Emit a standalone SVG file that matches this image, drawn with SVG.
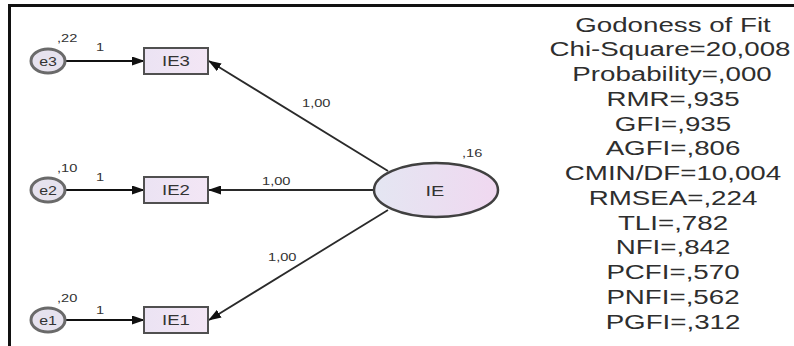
<svg xmlns="http://www.w3.org/2000/svg" width="794" height="346" viewBox="0 0 794 346">
  <defs>
    <marker id="arrow" markerUnits="userSpaceOnUse" markerWidth="13" markerHeight="9" refX="12" refY="4.5" orient="auto">
      <path d="M0,0 L13,4.5 L0,9 Z" fill="#111"/>
    </marker>
    <linearGradient id="latentFill" x1="0" y1="0" x2="1" y2="0">
      <stop offset="0" stop-color="#e4e6f2"/>
      <stop offset="1" stop-color="#f0d8f0"/>
    </linearGradient>
    <linearGradient id="boxFill" x1="0" y1="0" x2="1" y2="0">
      <stop offset="0" stop-color="#ebe3f3"/>
      <stop offset="1" stop-color="#f3e6f5"/>
    </linearGradient>
  </defs>
  <style>
    text { font-family: "Liberation Sans", Arial, sans-serif; fill: #333; }
    .err { fill: #e6e2ee; stroke: #6a6a6a; stroke-width: 3; }
    .obs { fill: url(#boxFill); stroke: #505050; stroke-width: 2; }
    .lat { fill: url(#latentFill); stroke: #404040; stroke-width: 2.5; }
    .edge { stroke: #2a2a2a; stroke-width: 1.8; fill: none; marker-end: url(#arrow); }
    .errEdge { stroke: #111; stroke-width: 2; fill: none; marker-end: url(#arrow); }
    .lbl { font-size: 11px; }
    .node { font-size: 14px; text-anchor: middle; }
    .fit { font-size: 21px; text-anchor: middle; fill: #2e2e2e; }
  </style>

  <rect width="794" height="346" fill="#fff"/>

  <!-- frame -->
  <g id="frame" stroke="#111" stroke-width="3">
    <line x1="8" y1="5.5" x2="794" y2="5.5"/>
    <line x1="9.5" y1="4" x2="9.5" y2="346"/>
  </g>

  <!-- connectors -->
  <g id="connectors">
    <line class="errEdge" x1="66" y1="61" x2="144" y2="61"/>
    <line class="errEdge" x1="66" y1="190" x2="144" y2="190"/>
    <line class="errEdge" x1="66" y1="320" x2="144" y2="320"/>
    <line class="edge" x1="388" y1="171" x2="209" y2="61"/>
    <line class="edge" x1="374" y1="190" x2="209" y2="190"/>
    <line class="edge" x1="388" y1="210" x2="209" y2="320"/>
    <text class="lbl" transform="translate(96,51) scale(1.33,1)">1</text>
    <text class="lbl" transform="translate(96,181) scale(1.33,1)">1</text>
    <text class="lbl" transform="translate(96,314) scale(1.33,1)">1</text>
    <text class="lbl" transform="translate(302,107) scale(1.33,1)">1,00</text>
    <text class="lbl" transform="translate(262,185) scale(1.33,1)">1,00</text>
    <text class="lbl" transform="translate(268,261) scale(1.33,1)">1,00</text>
  </g>

  <!-- error terms -->
  <g id="e3">
    <ellipse class="err" cx="48" cy="61" rx="17" ry="12"/>
    <text class="node" style="font-size:12px" transform="translate(48,65.5) scale(1.33,1)">e3</text>
    <text class="lbl" transform="translate(57,42) scale(1.33,1)">,22</text>
  </g>
  <g id="e2">
    <ellipse class="err" cx="48" cy="190" rx="17" ry="12"/>
    <text class="node" style="font-size:12px" transform="translate(48,194.5) scale(1.33,1)">e2</text>
    <text class="lbl" transform="translate(57,172) scale(1.33,1)">,10</text>
  </g>
  <g id="e1">
    <ellipse class="err" cx="48" cy="320" rx="17" ry="12"/>
    <text class="node" style="font-size:12px" transform="translate(48,324.5) scale(1.33,1)">e1</text>
    <text class="lbl" transform="translate(57,302) scale(1.33,1)">,20</text>
  </g>

  <!-- observed indicators -->
  <g id="IE3">
    <rect class="obs" x="144" y="48" width="64" height="26"/>
    <text class="node" transform="translate(176,66) scale(1.33,1)">IE3</text>
  </g>
  <g id="IE2">
    <rect class="obs" x="144" y="177" width="64" height="26"/>
    <text class="node" transform="translate(176,195) scale(1.33,1)">IE2</text>
  </g>
  <g id="IE1">
    <rect class="obs" x="144" y="307" width="64" height="26"/>
    <text class="node" transform="translate(176,325) scale(1.33,1)">IE1</text>
  </g>

  <!-- latent factor -->
  <g id="IE">
    <ellipse class="lat" cx="436" cy="190" rx="62" ry="27"/>
    <text class="node" style="font-size:15px" transform="translate(435,196) scale(1.33,1)">IE</text>
    <text class="lbl" transform="translate(462,157) scale(1.33,1)">,16</text>
  </g>

  <!-- fit statistics -->
  <g id="fit-summary">
    <text class="fit" transform="translate(673,31.5) scale(1.32,1)">Godoness of Fit</text>
    <text class="fit" transform="translate(670,56.3) scale(1.32,1)">Chi-Square=20,008</text>
    <text class="fit" transform="translate(672,81) scale(1.32,1)">Probability=,000</text>
    <text class="fit" transform="translate(673,105.8) scale(1.32,1)">RMR=,935</text>
    <text class="fit" transform="translate(673,130.5) scale(1.32,1)">GFI=,935</text>
    <text class="fit" transform="translate(673,155.3) scale(1.32,1)">AGFI=,806</text>
    <text class="fit" transform="translate(673,180) scale(1.32,1)">CMIN/DF=10,004</text>
    <text class="fit" transform="translate(673,204.8) scale(1.32,1)">RMSEA=,224</text>
    <text class="fit" transform="translate(673,229.5) scale(1.32,1)">TLI=,782</text>
    <text class="fit" transform="translate(673,254.3) scale(1.32,1)">NFI=,842</text>
    <text class="fit" transform="translate(673,279) scale(1.32,1)">PCFI=,570</text>
    <text class="fit" transform="translate(673,303.8) scale(1.32,1)">PNFI=,562</text>
    <text class="fit" transform="translate(673,328.5) scale(1.32,1)">PGFI=,312</text>
  </g>
</svg>
